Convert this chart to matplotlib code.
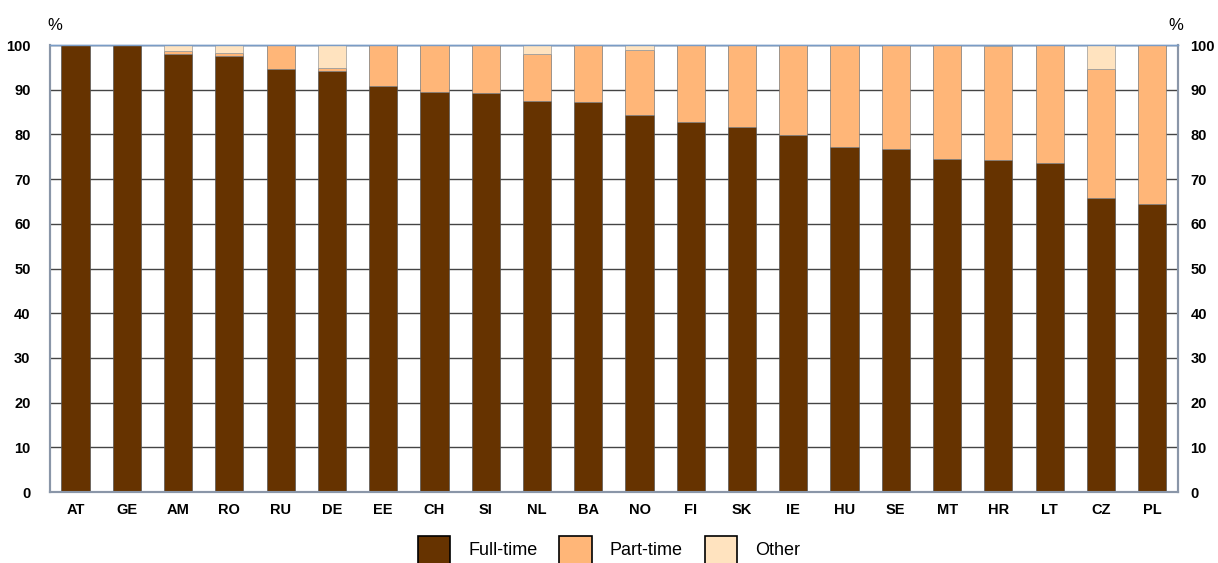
import matplotlib.pyplot as plt
import numpy as np
from matplotlib.patches import Patch

countries = ["AT", "GE", "AM", "RO", "RU", "DE", "EE", "CH", "SI", "NL", "BA",
             "NO", "FI", "SK", "IE", "HU", "SE", "MT", "HR", "LT", "CZ", "PL"]
full_time = [100.0, 100.0, 98.0, 97.5, 94.6, 94.1, 90.8, 89.4, 89.2, 87.4, 87.2,
             84.3, 82.8, 81.7, 79.9, 77.2, 76.7, 74.5, 74.3, 73.7, 65.7, 64.5]
part_time = [0.0, 0.0, 0.7, 0.7, 5.4, 0.7, 9.2, 10.6, 10.8, 10.7, 12.8,
             14.7, 17.2, 18.3, 20.1, 22.8, 23.3, 25.5, 25.4, 26.3, 28.9, 35.5]
other = [0.0, 0.0, 1.3, 1.8, 0.0, 5.2, 0.0, 0.0, 0.0, 1.9, 0.0,
         1.0, 0.0, 0.0, 0.0, 0.0, 0.0, 0.0, 0.3, 0.0, 5.4, 0.0]
y_ticks = [0, 10, 20, 30, 40, 50, 60, 70, 80, 90, 100]

colors = {"full": "#663300", "part": "#FFB678", "other": "#FFE3BF"}

plt.rcParams['font.family'] = 'Liberation Sans'

fig = plt.figure(figsize=(12.18, 5.63), dpi=100)
ax = fig.add_axes([0.041, 0.126, 0.926, 0.794])

x = np.arange(len(countries))
width = 0.55
full_time = np.array(full_time)
part_time = np.array(part_time)
other = np.array(other)

ax.bar(x, full_time, width, color=colors["full"], edgecolor="#555555", linewidth=0.5, zorder=3)
ax.bar(x, part_time, width, bottom=full_time, color=colors["part"], edgecolor="#777777", linewidth=0.5, zorder=3)
ax.bar(x, other, width, bottom=full_time + part_time, color=colors["other"], edgecolor="#999999", linewidth=0.5, zorder=3)

ax.set_xlim(-0.5, len(countries) - 0.5)
ax.set_ylim(0, 100)
ax.set_yticks(y_ticks)
ax.yaxis.grid(True, color="#444444", linewidth=1.0, zorder=0)
ax.set_xticks(x)
ax.set_xticklabels(countries, fontsize=10.5, fontweight="bold")
ax.tick_params(axis="x", length=0, pad=8)
ax.tick_params(axis="y", length=0, pad=14, labelsize=10.5)
for lab in ax.get_yticklabels():
    lab.set_fontweight("bold")

# right-hand axis labels (closer to the frame than the left ones)
ax2 = ax.twinx()
ax2.set_ylim(0, 100)
ax2.set_yticks(y_ticks)
ax2.tick_params(axis="y", length=0, pad=9, labelsize=10.5)
for lab in ax2.get_yticklabels():
    lab.set_fontweight("bold")

for a in (ax, ax2):
    for side in ["left", "right", "bottom"]:
        a.spines[side].set_color("#8a96a8")
        a.spines[side].set_linewidth(1.5)
    a.spines["top"].set_color("#7a9cc6")
    a.spines["top"].set_linewidth(1.0)

fig.text(0.045, 0.955, "%", fontsize=12, ha="center", va="center")
fig.text(0.965, 0.955, "%", fontsize=12, ha="center", va="center")

handles = [Patch(facecolor=colors["full"], edgecolor="black", linewidth=1.2, label="Full-time"),
           Patch(facecolor=colors["part"], edgecolor="black", linewidth=1.2, label="Part-time"),
           Patch(facecolor=colors["other"], edgecolor="black", linewidth=1.2, label="Other")]
fig.legend(handles=handles, loc="lower center", bbox_to_anchor=(0.5, -0.03), ncol=3,
           frameon=False, fontsize=13, handlelength=1.8, handleheight=2.0,
           columnspacing=1.2, handletextpad=1.0)

fig.savefig("out.png", dpi=100)
